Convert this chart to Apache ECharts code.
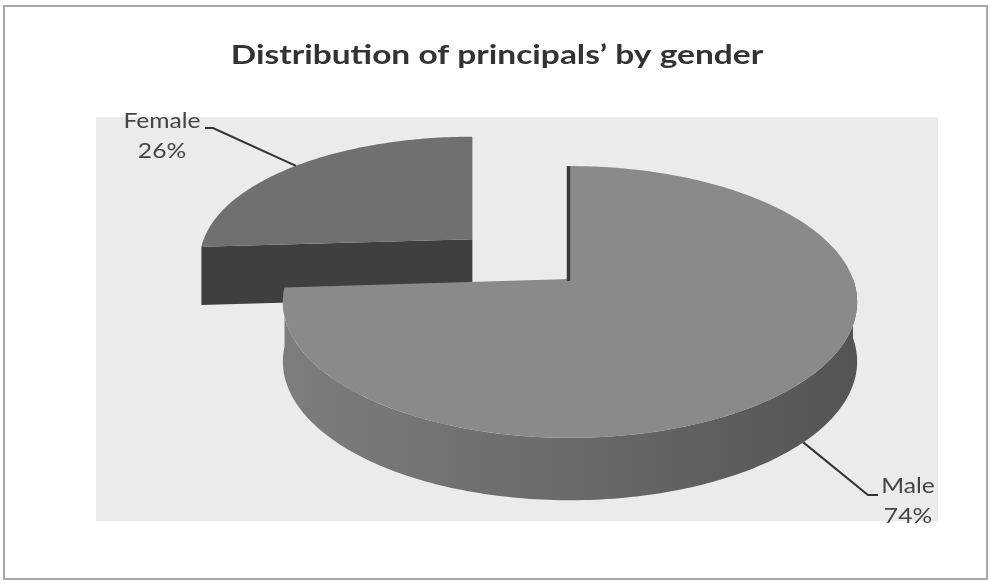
<!DOCTYPE html>
<html>
<head>
<meta charset="utf-8">
<script src="https://cdn.jsdelivr.net/npm/echarts@6/dist/echarts.min.js"></script>
<style>
  html, body { margin: 0; padding: 0; background: #ffffff; }
  #chart { width: 990px; height: 581px; }
</style>
</head>
<body>
<div id="chart"></div>
<script>
// ---- data ----
const titleText = 'Distribution of principals\u2019 by gender';
const categories = ['Female', 'Male'];
const percentages = [26, 74];

// ---- styling / layout ----
const explodeBy = [0.465, 0];               // slice pull-out, in radius units
const topColors = ['#707070', '#8a8a8a'];
const cutColors = ['#3f3f3f', '#5a5a5a'];
const labelLayout = [
  { elbow: [213, 128], end: [205, 128], text: [162, 136] },
  { elbow: [868, 495], end: [878, 495], text: [908, 501] }
];

// 3-D pie projection parameters
const G = { cx: 570, cy: 279, A: 283, B: 132, p: 0.169, H: 59, k: 0.3, start: 90 };

function project(s, ang, r, dz) {
  const rad = ang * Math.PI / 180;
  const ul = r * Math.cos(rad), vl = r * Math.sin(rad);
  const v = s.sv + vl;
  const f = 1 / (1 + G.p * v);
  return [G.cx + G.A * (s.su + ul * f), G.cy - G.B * v * f + dz * G.H * Math.pow(f, G.k)];
}

function arc(s, t0, t1, dz) {
  const pts = [];
  const n = Math.max(2, Math.ceil(Math.abs(t1 - t0)));
  for (let i = 0; i <= n; i++) pts.push(project(s, t0 + (t1 - t0) * i / n, 1, dz));
  return pts;
}

const total = percentages.reduce((a, b) => a + b, 0);

function renderSlice(params, api) {
  const i = params.dataIndex;
  let a0 = G.start;
  for (let j = 0; j < i; j++) a0 += 360 * percentages[j] / total;
  const a1 = a0 + 360 * api.value(0) / total;
  const mid = (a0 + a1) / 2;
  const e = explodeBy[i];
  const s = { su: e * Math.cos(mid * Math.PI / 180), sv: e * Math.sin(mid * Math.PI / 180) };
  if (i === 0) { s.su -= 0.006; }
  const children = [];

  // outer wall: only the part that faces the viewer
  const t0 = Math.max(a0, 180), t1 = Math.min(a1, 360);
  if (t1 > t0) {
    const pts = arc(s, t0, t1, 0).concat(arc(s, t1, t0, 1));
    const fill = i === 1 ? {
      type: 'linear', global: true, x: G.cx - G.A, y: 0, x2: G.cx + G.A, y2: 0,
      colorStops: [
        { offset: 0, color: '#7d7d7d' },
        { offset: 0.5, color: '#6a6a6a' },
        { offset: 1, color: '#545454' }
      ]
    } : '#4a4a4a';
    children.push({ type: 'polygon', shape: { points: pts }, style: { fill: fill } });
  }

  // radial cut faces
  const edges = [{ ang: a0, normal: a0 - 90 }, { ang: a1, normal: a1 + 90 }];
  const strips = [];
  edges.forEach(function (ed) {
    const n = ed.normal * Math.PI / 180;
    if (Math.sin(n) < -0.01) {
      children.push({
        type: 'polygon',
        shape: { points: [project(s, 0, 0, 0), project(s, ed.ang, 1, 0), project(s, ed.ang, 1, 1), project(s, 0, 0, 1)] },
        style: { fill: cutColors[i] }
      });
    } else if (Math.abs(Math.sin(n)) <= 0.01 && Math.cos(n) < 0) {
      strips.push(ed.ang);
    }
  });

  // top face
  const top = [project(s, 0, 0, 0)].concat(arc(s, a0, a1, 0));
  children.push({ type: 'polygon', shape: { points: top }, style: { fill: topColors[i] } });

  // edge-on cut face seen as a thin dark strip
  strips.forEach(function (ang) {
    const p0 = project(s, 0, 0, 0), p1 = project(s, ang, 1, 0);
    children.push({
      type: 'polyline',
      shape: { points: [[p1[0] - 1.5, p1[1]], [p0[0] - 1.5, p0[1] + 2]] },
      style: { stroke: '#3a3a3a', lineWidth: 3.5, fill: null }
    });
  });

  // leader line + label
  const front = Math.sin(mid * Math.PI / 180) < 0;
  const anchor = project(s, mid, 1, front ? 1 : 0);
  const lay = labelLayout[i];
  children.push({
    type: 'polyline',
    shape: { points: [anchor, lay.elbow, lay.end] },
    style: { stroke: '#333333', lineWidth: 2, fill: null }
  });
  children.push({
    type: 'text',
    x: lay.text[0], y: lay.text[1],
    scaleX: 1.12,
    style: {
      text: categories[i] + '\n' + api.value(0) + '%',
      x: 0, y: 0,
      align: 'center', verticalAlign: 'middle',
      lineHeight: 30,
      font: '22px Lato',
      fill: '#444444'
    }
  });

  return { type: 'group', children: children };
}

const chart = echarts.init(document.getElementById('chart'), null, { renderer: 'canvas' });
chart.setOption({
  animation: false,
  backgroundColor: '#ffffff',
  graphic: [
    { type: 'rect', z: -10, shape: { x: 4, y: 6, width: 983, height: 573 },
      style: { fill: '#ffffff', stroke: '#a8a8a8', lineWidth: 2 } },
    { type: 'rect', z: -9, shape: { x: 96, y: 117, width: 842, height: 404 },
      style: { fill: '#ebebeb' } },
    { type: 'text', z: 5, x: 497, y: 55, scaleX: 1.24,
      style: {
        text: titleText, x: 0, y: 0,
        align: 'center', verticalAlign: 'middle',
        font: 'bold 27px Lato', fill: '#333333'
      } }
  ],
  series: [{
    type: 'custom',
    coordinateSystem: 'none',
    renderItem: renderSlice,
    data: percentages.map(function (v, i) { return { name: categories[i], value: v }; })
  }]
});
</script>
</body>
</html>
